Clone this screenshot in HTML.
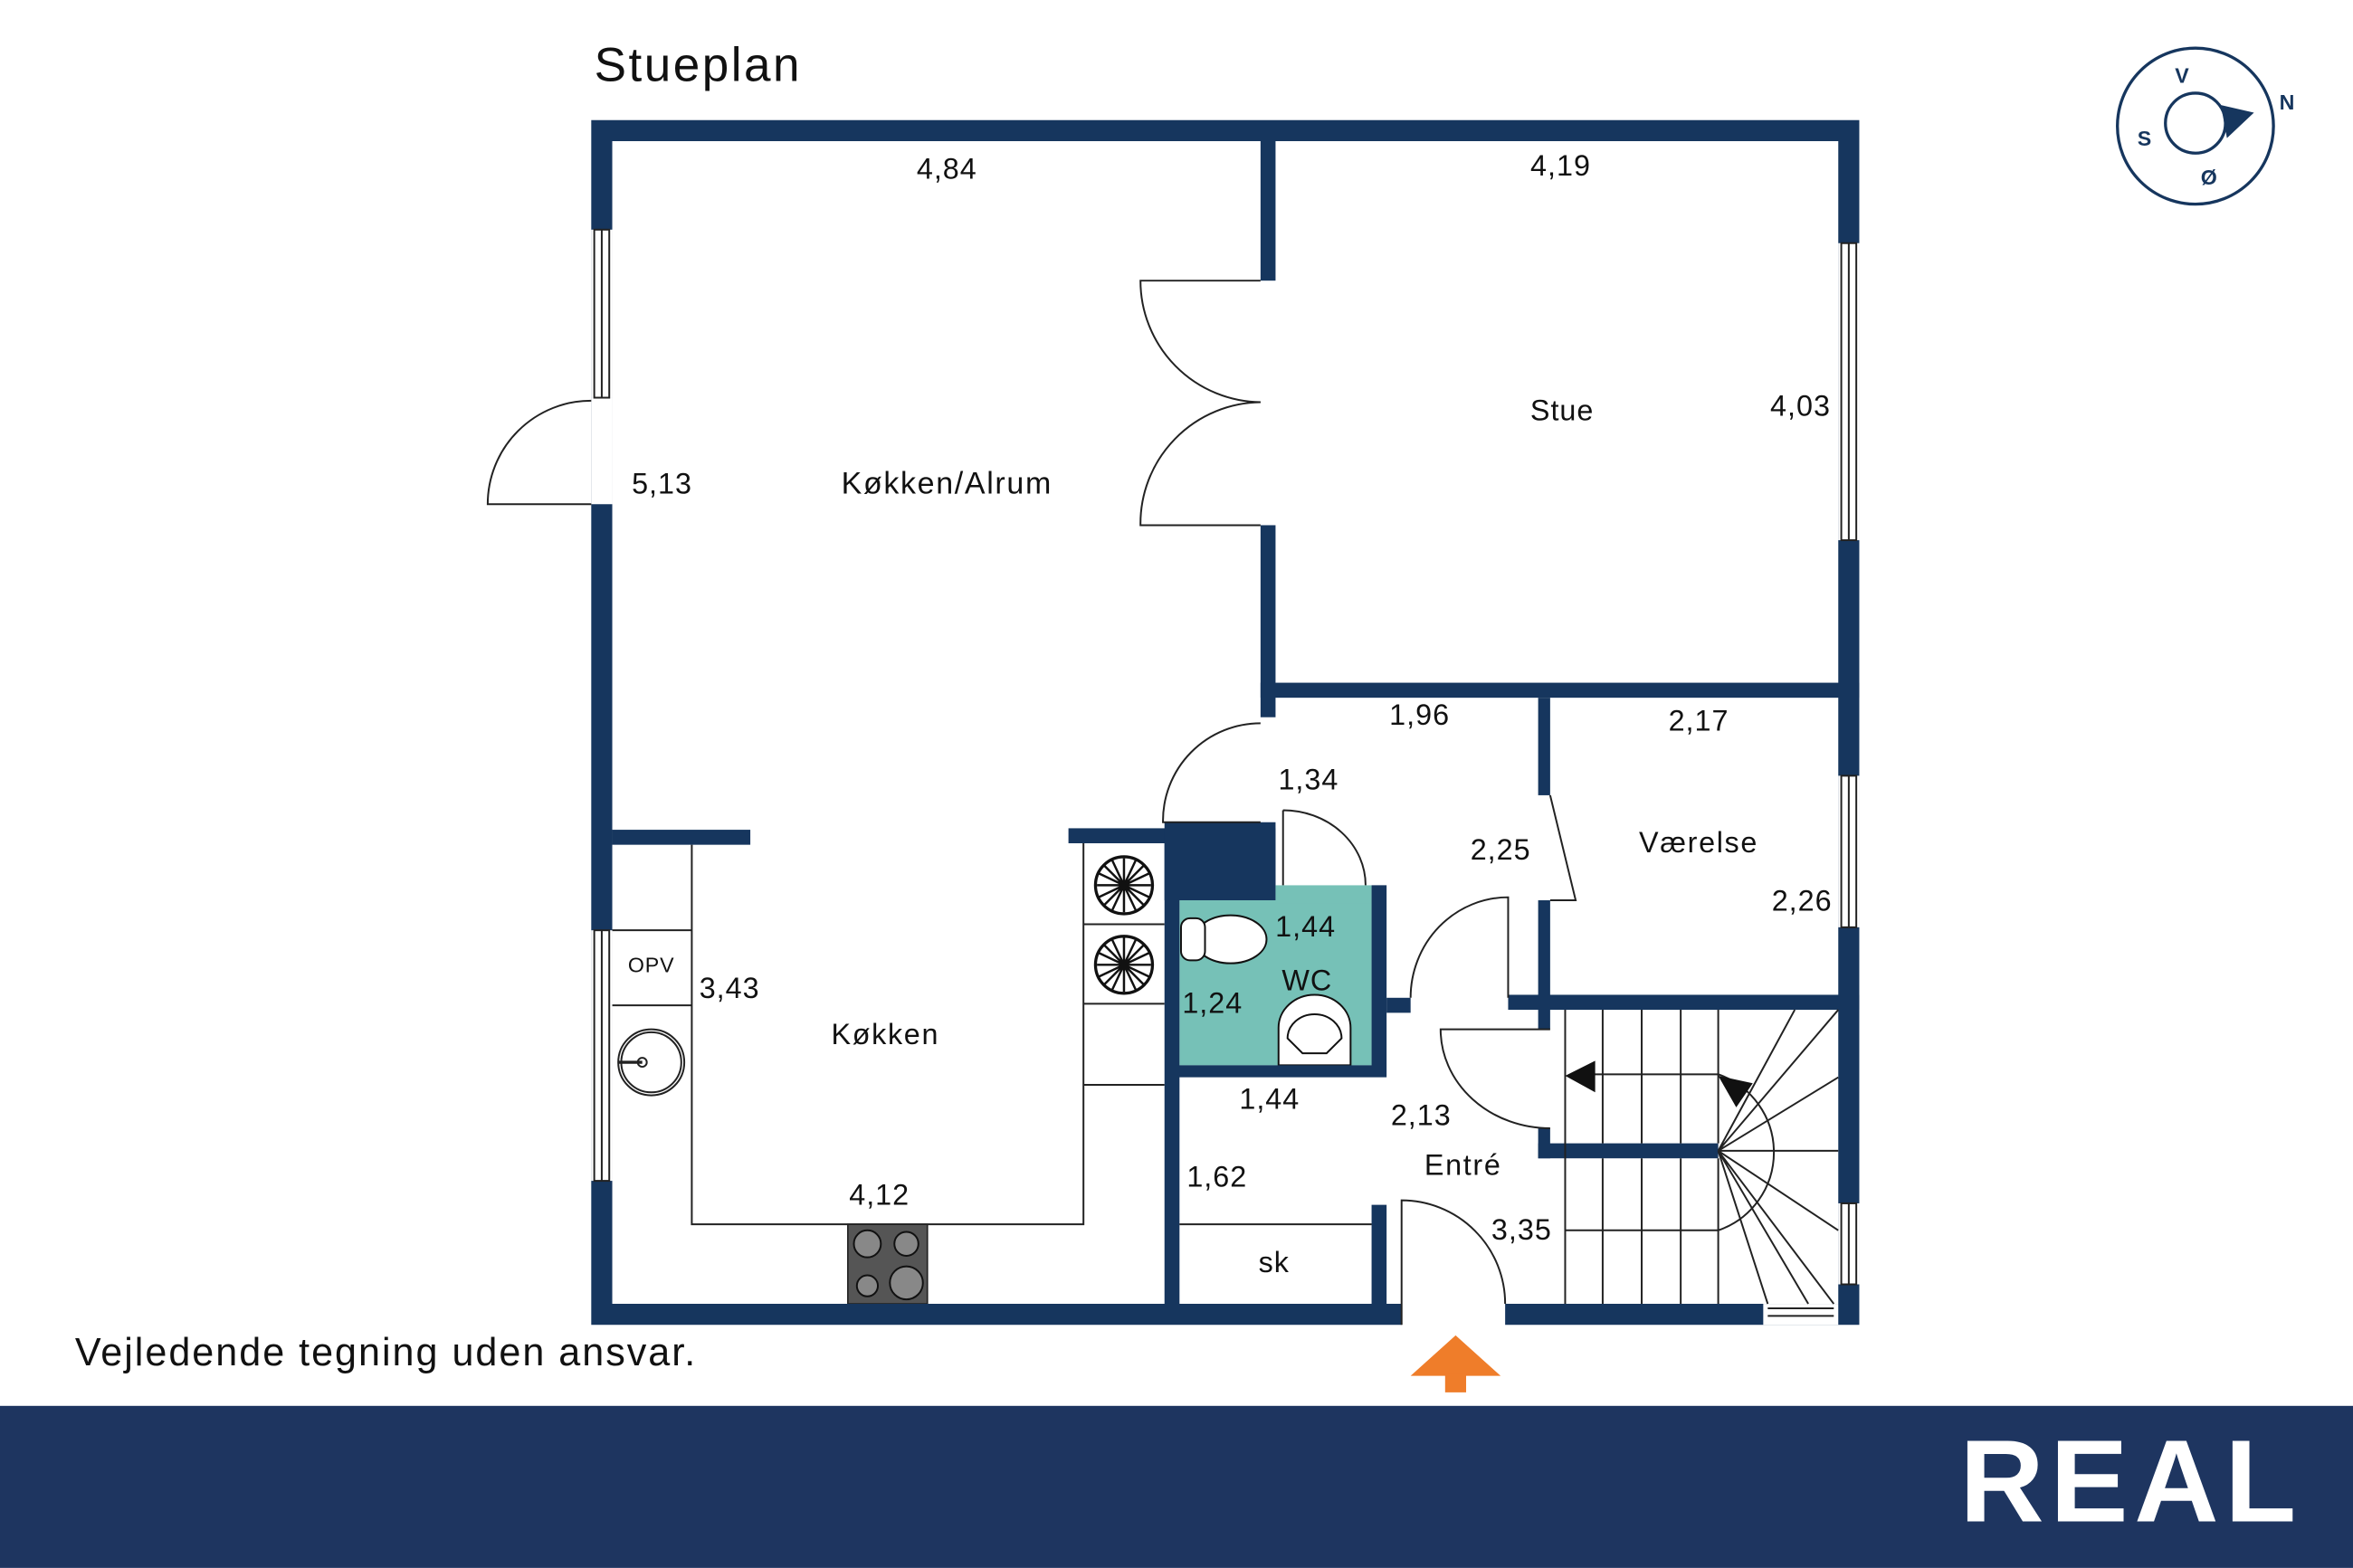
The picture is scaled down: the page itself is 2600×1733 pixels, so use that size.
<!DOCTYPE html>
<html><head><meta charset="utf-8"><style>
html,body{margin:0;padding:0;background:#fff;}
svg{display:block;}
text{font-family:"Liberation Sans",sans-serif;fill:#111;}
</style></head><body>
<svg width="2600" height="1733" viewBox="0 0 1568 1045" xmlns="http://www.w3.org/2000/svg">
<rect width="1568" height="1045" fill="#fff"/>
<text x="396" y="54" font-size="32" letter-spacing="1.5">Stueplan</text>
<text x="50" y="910" font-size="26" letter-spacing="1.2">Vejledende tegning uden ansvar.</text>

<!-- kitchen fixtures -->
<g fill="none" stroke="#222" stroke-width="1.2">
<polyline points="461,563 461,816 722,816 722,562"/>
<line x1="408" y1="620" x2="461" y2="620"/><line x1="408" y1="670" x2="461" y2="670"/>
<line x1="722" y1="616" x2="776" y2="616"/><line x1="722" y1="669" x2="776" y2="669"/>
<line x1="722" y1="723" x2="776" y2="723"/>
<circle cx="434" cy="708" r="22"/><circle cx="434" cy="708" r="20"/>
<line x1="412" y1="708" x2="428" y2="708" stroke-width="2"/>
<circle cx="428" cy="708" r="3"/>
</g>
<rect x="565" y="816" width="53" height="53" fill="#555" stroke="#222"/>
<g fill="#888" stroke="#111" stroke-width="1.2">
<circle cx="578" cy="829" r="9"/><circle cx="604" cy="829" r="8"/><circle cx="578" cy="857" r="7"/><circle cx="604" cy="855" r="11"/>
</g>
<!-- hobs -->
<g fill="none" stroke="#111" stroke-width="2">
<circle cx="749" cy="590" r="19"/><circle cx="749" cy="643" r="19"/>
<g stroke-width="1.5">
<path d="M731,590h36M749,572v36M736,577l26,26M762,577l-26,26M741,573l16,34M757,573l-16,34M732,582l34,16M766,582l-34,16"/>
<path d="M731,643h36M749,625v36M736,630l26,26M762,630l-26,26M741,626l16,34M757,626l-16,34M732,635l34,16M766,635l-34,16"/>
</g></g>

<!-- WC -->
<rect x="786" y="600" width="128" height="110" fill="#76c1b7"/>
<rect x="850" y="590" width="64" height="12" fill="#76c1b7"/>
<g fill="#fff" stroke="#111" stroke-width="1.2">
<ellipse cx="820" cy="626" rx="24" ry="16"/>
<rect x="787" y="612" width="16" height="28" rx="6"/>
<path d="M852,710v-25a24,22 0 0 1 48,0v25z"/>
<path d="M858,692a18,16 0 0 1 36,0l-10,10h-16z"/>
</g>

<!-- walls -->
<g fill="#16365e">
<path d="M394,80h845v803H1003v-14H1225V94H408V869H934v14H394z"/>
<rect x="394" y="153" width="14" height="112" fill="#fff"/>
<rect x="394" y="265" width="14" height="71" fill="#fff"/>
<rect x="394" y="620" width="14" height="167" fill="#fff"/>
<rect x="1225" y="162" width="14" height="198" fill="#fff"/>
<rect x="1225" y="517" width="14" height="101" fill="#fff"/>
<rect x="1225" y="802" width="14" height="54" fill="#fff"/>
<rect x="1175" y="869" width="50" height="14" fill="#fff"/>
<rect x="840" y="94" width="10" height="93"/>
<rect x="840" y="350" width="10" height="128"/>
<rect x="840" y="455" width="399" height="10"/>
<rect x="408" y="553" width="92" height="10"/>
<rect x="712" y="552" width="66" height="10"/>
<path d="M776,548h74v42h-64v10h0v110h128v-120h10v128h-138v151h-10z"/>
<rect x="776" y="552" width="74" height="48"/>
<rect x="924" y="665" width="16" height="10"/>
<rect x="1025" y="465" width="8" height="65"/>
<rect x="1025" y="600" width="8" height="86"/>
<rect x="1005" y="663" width="234" height="10"/>
<rect x="1025" y="752" width="8" height="20"/>
<rect x="1025" y="762" width="120" height="10"/>
<rect x="914" y="803" width="10" height="66"/>
</g>
<!-- window frames -->
<g fill="none" stroke="#222" stroke-width="1.2">
<rect x="396" y="153" width="10" height="112"/><line x1="401" y1="153" x2="401" y2="265"/>
<rect x="396" y="620" width="10" height="167"/><line x1="401" y1="620" x2="401" y2="787"/>
<rect x="1227" y="162" width="10" height="198"/><line x1="1232" y1="162" x2="1232" y2="360"/>
<rect x="1227" y="517" width="10" height="101"/><line x1="1232" y1="517" x2="1232" y2="618"/>
<rect x="1227" y="802" width="10" height="54"/><line x1="1232" y1="802" x2="1232" y2="856"/>
</g>
<g fill="none" stroke="#222" stroke-width="1.2">
<line x1="1178" y1="872" x2="1222" y2="872"/><line x1="1178" y1="877" x2="1222" y2="877"/>
<line x1="786" y1="816" x2="914" y2="816"/>
<!-- doors -->
<path d="M394,267A69,69 0 0 0 325,336H394"/>
<path d="M840,187H760A81,81 0 0 0 840,268"/>
<path d="M840,350H760A81,81 0 0 1 840,268"/>
<path d="M840,482A65,65 0 0 0 775,548H840"/>
<path d="M855,540V590M855,540A55,50 0 0 1 910,590"/>
<path d="M1005,665V598A65,67 0 0 0 940,665"/>
<path d="M1033,530L1050,600H1033"/>
<path d="M1033,686H960A73,66 0 0 0 1033,752"/>
<path d="M934,883V800A69,69 0 0 1 1003,869"/>
<!-- stairs -->
<path d="M1043,673V869M1068,673V762M1094,673V762M1120,673V762M1145,673V762M1068,772V869M1094,772V869M1120,772V869M1145,772V869"/>
<path d="M1043,820H1145M1145,767L1196,673M1145,767L1225,718M1145,767L1225,767M1145,767L1225,820M1145,767L1178,869M1145,767L1222,869M1145,767L1205,869M1145,767L1225,673"/>
<path d="M1145,716A55,55 0 0 1 1145,820"/>
<line x1="1060" y1="716" x2="1145" y2="716"/>
</g>
<polygon points="1043,717 1063,707 1063,728" fill="#111"/>
<polygon points="1145,717 1168,722 1157,738" fill="#111"/>

<!-- labels -->
<g font-size="19.5" letter-spacing="0.6">
<text x="631" y="119" text-anchor="middle">4,84</text>
<text x="1040" y="117" text-anchor="middle">4,19</text>
<text x="1041" y="280" text-anchor="middle">Stue</text>
<text x="1220" y="277" text-anchor="end">4,03</text>
<text x="421" y="329">5,13</text>
<text x="631" y="329" text-anchor="middle" font-size="20.5" letter-spacing="1">Køkken/Alrum</text>
<text x="946" y="483" text-anchor="middle">1,96</text>
<text x="1132" y="487" text-anchor="middle">2,17</text>
<text x="872" y="526" text-anchor="middle">1,34</text>
<text x="1000" y="573" text-anchor="middle">2,25</text>
<text x="1132" y="568" text-anchor="middle" letter-spacing="1">Værelse</text>
<text x="1221" y="607" text-anchor="end">2,26</text>
<text x="870" y="624" text-anchor="middle">1,44</text>
<text x="871" y="660" text-anchor="middle">WC</text>
<text x="808" y="675" text-anchor="middle">1,24</text>
<text x="466" y="665">3,43</text>
<text x="590" y="696" text-anchor="middle" letter-spacing="1">Køkken</text>
<text x="846" y="739" text-anchor="middle">1,44</text>
<text x="947" y="750" text-anchor="middle">2,13</text>
<text x="975" y="783" text-anchor="middle" letter-spacing="1">Entré</text>
<text x="811" y="791" text-anchor="middle">1,62</text>
<text x="1014" y="826" text-anchor="middle">3,35</text>
<text x="586" y="803" text-anchor="middle">4,12</text>
<text x="849" y="848" text-anchor="middle">sk</text>
</g>
<text x="434" y="648" font-size="14" text-anchor="middle" letter-spacing="0.5">OPV</text>

<!-- entrance arrow -->
<polygon points="940,917 1000,917 970,890" fill="#ef7d2a"/>
<rect x="963" y="915" width="14" height="13" fill="#ef7d2a"/>

<!-- compass -->
<g stroke="#16365e" fill="none" stroke-width="2">
<circle cx="1463" cy="84" r="52"/>
<circle cx="1463" cy="82" r="20"/>
</g>
<polygon points="1480,70 1502,75 1484,92" fill="#16365e"/>
<g font-size="14" font-weight="bold" text-anchor="middle">
<text x="1454" y="55" style="fill:#16365e">V</text>
<text x="1524" y="73" style="fill:#16365e">N</text>
<text x="1429" y="97" style="fill:#16365e">S</text>
<text x="1472" y="123" style="fill:#16365e">Ø</text>
</g>

<!-- footer -->
<rect x="0" y="937" width="1568" height="108" fill="#1e3560"/>
<text x="1420" y="1014" font-size="78" font-weight="bold" text-anchor="middle" letter-spacing="4" style="fill:#fff">REAL</text>
</svg>
</body></html>
